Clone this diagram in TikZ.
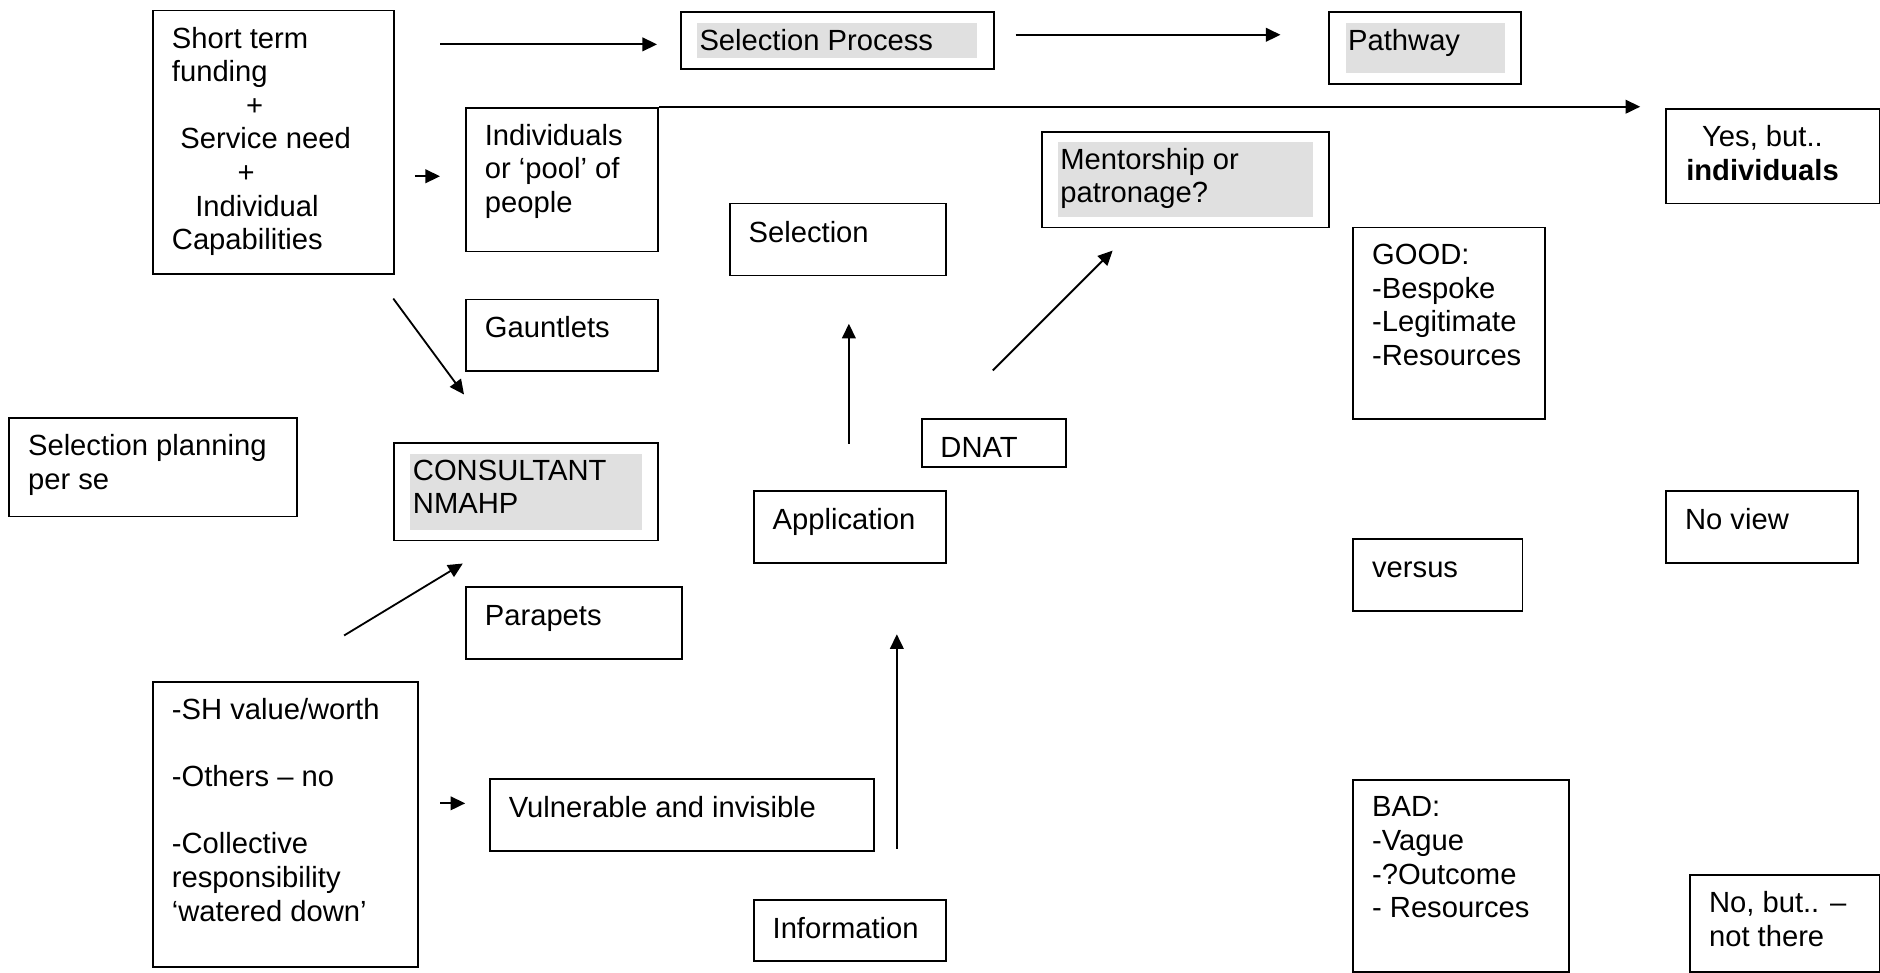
\documentclass[tikz,border=0pt]{standalone}
\usepackage{fontspec}
\setmainfont{Liberation Sans}
\usetikzlibrary{arrows.meta}
\newcommand{\dpx}{0.493pt}
\definecolor{boxgray}{RGB}{224,224,224}
\tikzset{
  box/.style 2 args={draw, line width=0.75pt, anchor=north west, inner sep=0pt,
    minimum width=#1*\dpx, minimum height=#2*\dpx},
  shaded/.style={path picture={\fill[boxgray]
    ([shift={(13.5,9)}]path picture bounding box.north west) rectangle
    ([shift={(-13.5,-9)}]path picture bounding box.south east);}},
  txt/.style={anchor=north west, inner sep=0pt, align=left,
    font=\fontsize{12pt}{13.8pt}\selectfont,
    execute at begin node={\rule{0pt}{9pt}}},
  arr/.style={-{Triangle[length=6pt, width=5.6pt]}, line width=0.75pt},
}
\begin{document}
\begin{tikzpicture}[x=\dpx, y=-\dpx]
  \useasboundingbox (0,0) rectangle (1568,811);
  % boxes
  \node[box={201}{220}] (fund) at (127,8) {};
  \node[box={261}{48}, shaded] (proc) at (567,9) {};
  \node[box={160}{60}, shaded] (pathway) at (1108,9) {};
  \node[box={160}{120}] (indiv) at (388,89) {};
  \node[box={240}{80}, shaded] (mentor) at (868,109) {};
  \node[box={178}{79}] (yes) at (1389,90) {};
  \node[box={180}{60}] (sel) at (608,169) {};
  \node[box={160}{160}] (good) at (1128,189) {};
  \node[box={160}{60}] (gaunt) at (388,249) {};
  \node[box={240}{82}] (plan) at (7,348) {};
  \node[box={220}{81}, shaded] (cons) at (328,369) {};
  \node[box={120}{40}] (dnat) at (768,349) {};
  \node[box={160}{60}] (appl) at (628,409) {};
  \node[box={160}{60}] (noview) at (1389,409) {};
  \node[box={141}{60}] (versus) at (1128,449) {};
  \node[box={180}{60}] (parap) at (388,489) {};
  \node[box={221}{238}] (worth) at (127,568) {};
  \node[box={320}{60}] (vuln) at (408,649) {};
  \node[box={160}{51}] (info) at (628,750) {};
  \node[box={180}{160}] (bad) at (1128,650) {};
  \node[box={158}{81}] (nobut) at (1409,729) {};
  % texts
  \node[txt] (fund-t) at ([shift={(16,14.2)}]fund.north west)
    {Short term\\funding\\\hspace*{30.5pt}+\\\hspace*{3.5pt}Service need\\\hspace*{27pt}+\\\hspace*{9.6pt}Individual\\Capabilities};
  \node[txt] (proc-t) at ([shift={(16,14.2)}]proc.north west) {Selection Process};
  \node[txt] (pathway-t) at ([shift={(16,14.2)}]pathway.north west) {Pathway};
  \node[txt] (indiv-t) at ([shift={(16,14.2)}]indiv.north west) {Individuals\\or ‘pool’ of\\people};
  \node[txt] (mentor-t) at ([shift={(16,14.2)}]mentor.north west) {Mentorship or\\patronage?};
  \node[txt, align=center] (yes-t) at ([shift={(17,14.2)}]yes.north west) {Yes, but..\\\textbf{individuals}};
  \node[txt] (sel-t) at ([shift={(16,14.2)}]sel.north west) {Selection};
  \node[txt] (good-t) at ([shift={(16,14.2)}]good.north west) {GOOD:\\-Bespoke\\-Legitimate\\-Resources};
  \node[txt] (gaunt-t) at ([shift={(16,14.2)}]gaunt.north west) {Gauntlets};
  \node[txt] (plan-t) at ([shift={(16,14.2)}]plan.north west) {Selection planning\\per se};
  \node[txt] (cons-t) at ([shift={(16,14.2)}]cons.north west) {CONSULTANT\\NMAHP};
  \node[txt] (dnat-t) at ([shift={(16,14.2)}]dnat.north west) {DNAT};
  \node[txt] (appl-t) at ([shift={(16,14.2)}]appl.north west) {Application};
  \node[txt] (noview-t) at ([shift={(16,14.2)}]noview.north west) {No view};
  \node[txt] (versus-t) at ([shift={(16,14.2)}]versus.north west) {versus};
  \node[txt] (parap-t) at ([shift={(16,14.2)}]parap.north west) {Parapets};
  \node[txt] (worth-t) at ([shift={(16,14.2)}]worth.north west)
    {-SH value/worth\\[13.8pt]-Others -- no\\[13.8pt]-Collective\\responsibility\\‘watered down’};
  \node[txt] (vuln-t) at ([shift={(16,14.2)}]vuln.north west) {Vulnerable and invisible};
  \node[txt] (info-t) at ([shift={(16,14.2)}]info.north west) {Information};
  \node[txt] (bad-t) at ([shift={(16,14.2)}]bad.north west) {BAD:\\-Vague\\-?Outcome\\- Resources};
  \node[txt] (nobut-t) at ([shift={(16,14.2)}]nobut.north west) {No, but.. --\\not there};
  % connectors
  \coordinate (fund-r) at (367,37);
  \coordinate (proc-l) at (548,37);
  \coordinate (proc-r) at (847,29);
  \coordinate (pathway-l) at (1068,29);
  \coordinate (yes-l) at (1368,89);
  \coordinate (indiv-a) at (346,147);
  \coordinate (indiv-b) at (367,147);
  \coordinate (cons-a) at (328,249);
  \coordinate (cons-b) at (387,329);
  \coordinate (sel-a) at (708,370);
  \coordinate (sel-b) at (708,270);
  \coordinate (mentor-a) at (828,309);
  \coordinate (mentor-b) at (928,209);
  \coordinate (cons-c) at (287,530);
  \coordinate (cons-d) at (386,470);
  \coordinate (vuln-a) at (367,670);
  \coordinate (vuln-b) at (388,670);
  \coordinate (appl-a) at (748,708);
  \coordinate (appl-b) at (748,529);
  \draw[arr] (fund-r) -- (proc-l);
  \draw[arr] (proc-r) -- (pathway-l);
  \draw[arr] (indiv.north east) -- (yes-l);
  \draw[arr] (indiv-a) -- (indiv-b);
  \draw[arr] (cons-a) -- (cons-b);
  \draw[arr] (sel-a) -- (sel-b);
  \draw[arr] (mentor-a) -- (mentor-b);
  \draw[arr] (cons-c) -- (cons-d);
  \draw[arr] (vuln-a) -- (vuln-b);
  \draw[arr] (appl-a) -- (appl-b);
\end{tikzpicture}
\end{document}
